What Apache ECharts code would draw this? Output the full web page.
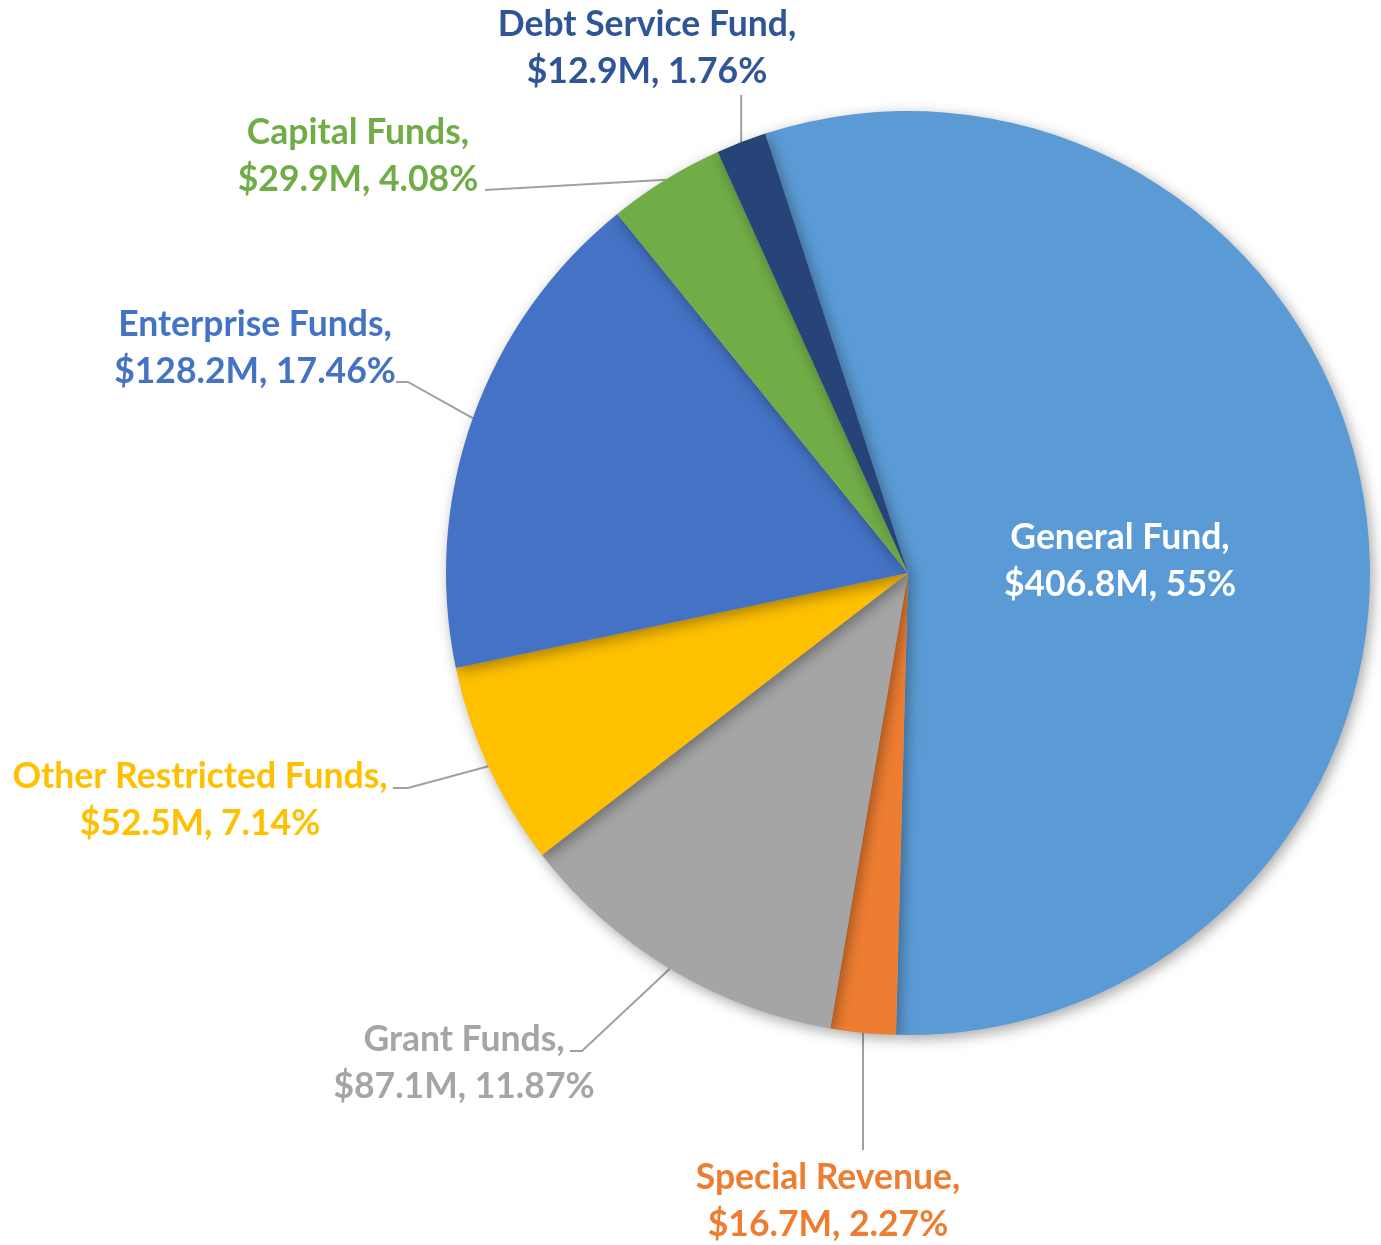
<!DOCTYPE html>
<html>
<head>
<meta charset="utf-8">
<script src="https://cdn.jsdelivr.net/npm/echarts@6/dist/echarts.min.js"></script>
<style>
html,body{margin:0;padding:0;background:#fff;}
#chart{width:1381px;height:1245px;}
</style>
</head>
<body>
<div id="chart"></div>
<script>
var names = ['General Fund', 'Special Revenue', 'Grant Funds', 'Other Restricted Funds', 'Enterprise Funds', 'Capital Funds', 'Debt Service Fund'];
var values = [406.8, 16.7, 87.1, 52.5, 128.2, 29.9, 12.9];
var percentLabels = ['55%', '2.27%', '11.87%', '7.14%', '17.46%', '4.08%', '1.76%'];

var sliceColors = ['#5B9BD5', '#ED7D31', '#A5A5A5', '#FFC000', '#4472C4', '#70AD47', '#264478'];
var textColors = ['#FFFFFF', '#ED7D31', '#A5A5A5', '#FFC000', '#4472C4', '#70AD47', '#2F5597'];
// label text block centres
var labelPos = [[1120, 561], [828, 1201], [464, 1063], [200, 800], [255, 348], [358, 156], [647, 48]];
// leader line bend / end points (null x = straight vertical from slice edge)
var linePts = [
  null,
  [[null, 1150]],
  [[582, 1051], [570, 1051]],
  [[408, 788], [393, 788]],
  [[408, 382], [396, 382]],
  [[485, 190]],
  [[null, 95]]
];

var chart = echarts.init(document.getElementById('chart'));
var data = names.map(function (n, i) {
  return {
    name: n,
    value: values[i],
    itemStyle: { color: sliceColors[i] },
    label: { color: textColors[i] },
    labelLine: { show: i !== 0 }
  };
});

chart.setOption({
  animation: false,
  series: [{
    type: 'pie',
    center: [908, 573],
    radius: 462,
    startAngle: 108,
    clockwise: true,
    avoidLabelOverlap: false,
    data: data,
    itemStyle: {
      borderWidth: 0,
      shadowBlur: 14,
      shadowColor: 'rgba(0,0,0,0.35)',
      shadowOffsetX: 3,
      shadowOffsetY: 4
    },
    label: {
      show: true,
      position: 'outside',
      fontFamily: 'Lato, sans-serif',
      fontWeight: 'bold',
      fontSize: 35.5,
      lineHeight: 47,
      align: 'center',
      formatter: function (p) {
        return p.name + ',\n$' + values[p.dataIndex].toFixed(1) + 'M, ' + percentLabels[p.dataIndex];
      }
    },
    labelLine: {
      show: true,
      length: 20,
      length2: 20,
      lineStyle: { color: '#A0A0A0', width: 2 }
    },
    labelLayout: function (params) {
      var i = params.dataIndex;
      var p = labelPos[i];
      var res = { x: p[0], y: p[1], align: 'center', verticalAlign: 'middle', hideOverlap: false, moveOverlap: false };
      if (linePts[i] && params.labelLinePoints) {
        var s = params.labelLinePoints[0];
        var pts = [[s[0], s[1]]];
        linePts[i].forEach(function (q) {
          pts.push([q[0] === null ? s[0] : q[0], q[1]]);
        });
        while (pts.length < 3) pts.push(pts[pts.length - 1].slice());
        res.labelLinePoints = pts;
      }
      return res;
    }
  }]
});
</script>
</body>
</html>
